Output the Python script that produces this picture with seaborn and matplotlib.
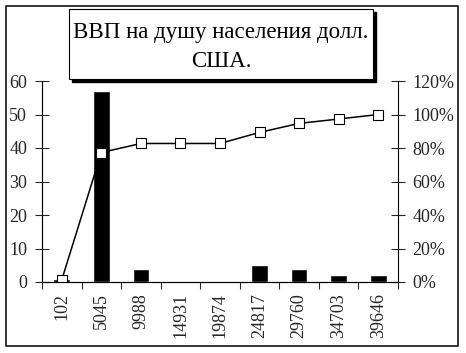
import numpy as np
import matplotlib
matplotlib.use("Agg")
import matplotlib.pyplot as plt
import seaborn as sns
from matplotlib.patches import Rectangle
from matplotlib.ticker import PercentFormatter, FixedLocator

# data
bins = ["102", "5045", "9988", "14931", "19874", "24817", "29760", "34703", "39646"]
counts = [1, 57, 4, 0, 0, 5, 4, 2, 2]
cum_share = [0.013, 0.773, 0.827, 0.827, 0.827, 0.893, 0.947, 0.973, 1.0]
title = "ВВП на душу населения долл.\nСША."

sns.set_style("white")
plt.rcParams["font.family"] = ["Liberation Serif", "DejaVu Serif"]
plt.rcParams["text.color"] = "black"

W, H = 466, 353
fig = plt.figure(figsize=(W / 100, H / 100), dpi=100)
ax = fig.add_axes([42 / W, 1 - 282 / H, (398 - 42) / W, (282 - 81) / H])

sns.barplot(x=bins, y=counts, order=bins, color="black", saturation=1,
            width=0.42, errorbar=None, ax=ax)
ax.set_xlim(-0.5, len(bins) - 0.5)
ax.set_ylim(0, 60)
ax.set_yticks(range(0, 61, 10))
ax.set_xlabel("")
ax.set_ylabel("")

ax2 = ax.twinx()
sns.pointplot(x=bins, y=cum_share, order=bins, color="black", markers="s",
              linestyles="-", errorbar=None, ax=ax2,
              markersize=6.5, markerfacecolor="white", markeredgecolor="black",
              markeredgewidth=0.8, linewidth=1.1)
ax2.set_xlim(-0.5, len(bins) - 0.5)
ax2.set_ylim(0, 1.2)
ax2.set_yticks(np.arange(0, 1.21, 0.2))
ax2.yaxis.set_major_formatter(PercentFormatter(1.0, decimals=0))
ax2.set_ylabel("")
ax2.set_xlabel("")

for a in (ax, ax2):
    a.spines["top"].set_visible(False)
    for s in a.spines.values():
        s.set_linewidth(0.8)
        s.set_color("black")
ax.spines["right"].set_visible(False)

ax.tick_params(axis="y", direction="inout", length=9.5, width=0.8,
               pad=6, labelsize=13, left=True)
ax2.tick_params(axis="y", direction="inout", length=9.5, width=0.8,
                pad=5.5, labelsize=13, right=True)

# x ticks: labels at centres, tick marks at boundaries
ax.tick_params(axis="x", which="major", length=0, pad=8, labelsize=13,
               labelrotation=90)
ax.xaxis.set_minor_locator(FixedLocator(np.arange(-0.5, len(bins), 1.0)))
ax.tick_params(axis="x", which="minor", direction="out", length=5,
               width=0.8, bottom=True)
ax2.tick_params(axis="x", which="both", length=0, labelbottom=False)

# title box with shadow
bx, by, bw, bh = 69 / W, 1 - 79 / H, 304 / W, 70 / H
fig.patches.append(Rectangle((bx + 3 / W, by - 3 / H), bw, bh, transform=fig.transFigure,
                             facecolor="black", edgecolor="black", zorder=5))
fig.patches.append(Rectangle((bx, by), bw, bh, transform=fig.transFigure,
                             facecolor="white", edgecolor="black", linewidth=0.8, zorder=6))
fig.text(bx + bw / 2, by + bh / 2 - 3 / H, title, ha="center", va="center",
         fontsize=16.5, linespacing=1.45, zorder=7)

# outer border
fig.patches.append(Rectangle((6 / W, 7 / H), 452 / W, 340 / H, transform=fig.transFigure,
                             facecolor="none", edgecolor="black", linewidth=1.1, zorder=4))

fig.savefig("out.png", dpi=100)
